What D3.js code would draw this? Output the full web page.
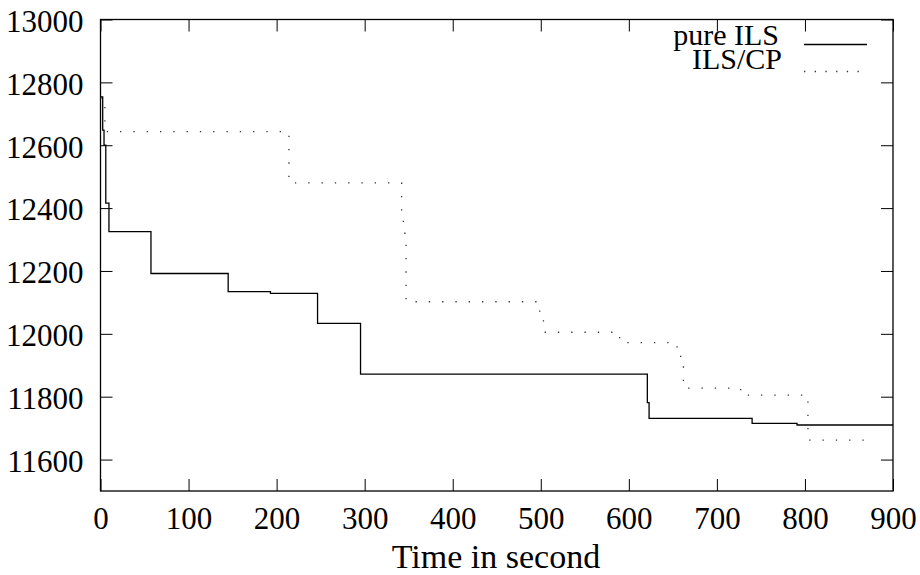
<!DOCTYPE html>
<html>
<head>
<meta charset="utf-8">
<script src="https://cdn.jsdelivr.net/npm/d3@7"></script>
<style>
  body { margin: 0; background: #fff; }
  text { font-family: "Liberation Serif", "DejaVu Serif", serif; fill: #000; }
</style>
</head>
<body>
<script>
var width = 920;
var height = 575;

// pure ILS steps (time in s, cost)
var pureTime = [0, 2.5, 4, 6, 9.6, 57.3, 145, 193, 246.5, 295.3, 621, 623, 740, 791, 900];
var pureCost = [12754, 12648, 12600, 12416, 12325, 12192, 12134, 12129, 12033, 11872, 11781, 11731, 11715, 11710, 11710];

// ILS/CP steps
var cpTime = [0, 5, 214, 342, 344, 347, 497, 503, 589.6, 654.7, 662, 727, 803.4, 879];
var cpCost = [12750, 12643, 12480, 12390, 12320, 12102, 12072, 12005, 11972, 11928, 11827, 11805, 11662, 11662];

var xTicks = [0, 100, 200, 300, 400, 500, 600, 700, 800, 900];
var yTicks = [11600, 11800, 12000, 12200, 12400, 12600, 12800, 13000];
var seriesNames = ["pure ILS", "ILS/CP"];

(function () {
  var margin = {left: 100.5, right: 27, top: 19.5, bottom: 84};

  var svg = d3.select("body").append("svg")
    .attr("width", width)
    .attr("height", height);

  var x = d3.scaleLinear()
    .domain([0, 900])
    .range([margin.left, width - margin.right]);

  var y = d3.scaleLinear()
    .domain([11500, 13000])
    .range([height - margin.bottom, margin.top]);

  // axes with inward ticks, mirrored on top/right
  var gBottom = svg.append("g")
    .attr("transform", "translate(0," + y(11500) + ")")
    .call(d3.axisBottom(x).tickValues(xTicks).tickSizeInner(-12).tickSizeOuter(0).tickPadding(16));

  var gLeft = svg.append("g")
    .attr("transform", "translate(" + x(0) + ",0)")
    .call(d3.axisLeft(y).tickValues(yTicks).tickSizeInner(-12).tickSizeOuter(0).tickPadding(17).tickFormat(d3.format("d")));

  var gTop = svg.append("g")
    .attr("transform", "translate(0," + y(13000) + ")")
    .call(d3.axisTop(x).tickValues(xTicks).tickSizeInner(-12).tickSizeOuter(0).tickFormat(""));

  var gRight = svg.append("g")
    .attr("transform", "translate(" + x(900) + ",0)")
    .call(d3.axisRight(y).tickValues(yTicks).tickSizeInner(-12).tickSizeOuter(0).tickFormat(""));

  [gBottom, gLeft, gTop, gRight].forEach(function (g) {
    g.select(".domain").remove();
    g.selectAll(".tick line").attr("stroke", "#000").attr("stroke-width", 1);
    g.selectAll(".tick text")
      .style("font-family", "'Liberation Serif', serif")
      .style("font-size", "31px")
      .attr("fill", "#000");
  });
  gLeft.selectAll(".tick text").attr("dy", "0.38em");

  // frame
  svg.append("rect")
    .attr("x", x(0))
    .attr("y", y(13000))
    .attr("width", x(900) - x(0))
    .attr("height", y(11500) - y(13000))
    .attr("fill", "none")
    .attr("stroke", "#000")
    .attr("stroke-width", 1.3);

  var line = d3.line()
    .x(function (d) { return x(d[0]); })
    .y(function (d) { return y(d[1]); })
    .curve(d3.curveStepAfter);

  var pureData = pureTime.map(function (t, i) { return [t, pureCost[i]]; });
  var cpData = cpTime.map(function (t, i) { return [t, cpCost[i]]; });

  svg.append("path")
    .datum(pureData)
    .attr("d", line)
    .attr("fill", "none")
    .attr("stroke", "#000")
    .attr("stroke-width", 1.3);

  svg.append("path")
    .datum(cpData)
    .attr("d", line)
    .attr("fill", "none")
    .attr("stroke", "#333")
    .attr("stroke-width", 1.3)
    .attr("stroke-dasharray", "1.3,12");

  // legend
  var legend = svg.append("g");
  legend.append("text")
    .attr("x", 779).attr("y", 45)
    .attr("text-anchor", "end")
    .style("font-size", "30px")
    .text(seriesNames[0]);
  legend.append("line")
    .attr("x1", 804).attr("x2", 867)
    .attr("y1", 44.5).attr("y2", 44.5)
    .attr("stroke", "#000").attr("stroke-width", 1.3);
  legend.append("text")
    .attr("x", 782).attr("y", 69)
    .attr("text-anchor", "end")
    .style("font-size", "30px")
    .text(seriesNames[1]);
  legend.append("line")
    .attr("x1", 804).attr("x2", 867)
    .attr("y1", 71.5).attr("y2", 71.5)
    .attr("stroke", "#333").attr("stroke-width", 1.3)
    .attr("stroke-dasharray", "1.3,9.4");

  // x axis title
  svg.append("text")
    .attr("x", 496)
    .attr("y", 568)
    .attr("text-anchor", "middle")
    .style("font-size", "34px")
    .text("Time in second");
})();
</script>
</body>
</html>
